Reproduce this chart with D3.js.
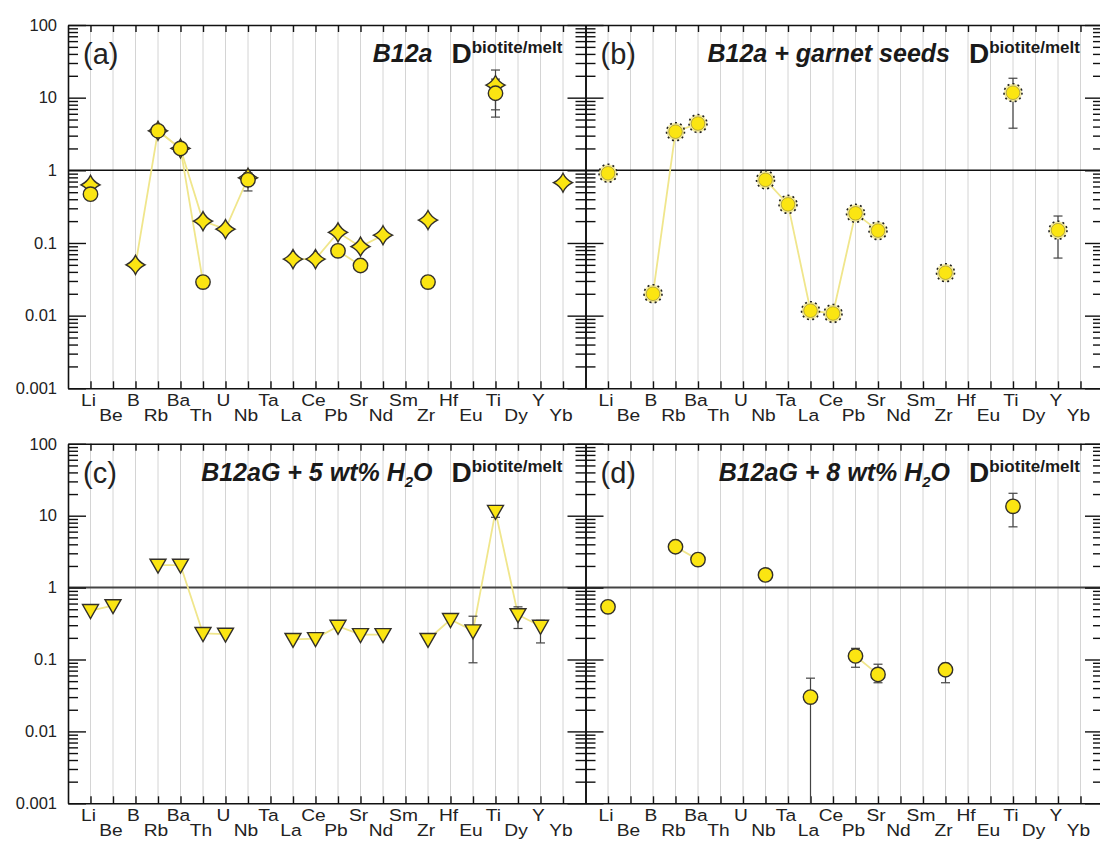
<!DOCTYPE html>
<html><head><meta charset="utf-8">
<script src="https://cdn.jsdelivr.net/npm/d3@7"></script>
<style>body{margin:0;background:#fff} svg{display:block}</style>
</head><body><svg id="chart" width="1100" height="844"></svg>
<script>
// ---------------- data ----------------
const elements = ["Li","Be","B","Rb","Ba","Th","U","Nb","Ta","La","Ce","Pb","Sr","Nd","Sm","Zr","Hf","Eu","Ti","Dy","Y","Yb"];
const yTickValues = [100, 10, 1, 0.1, 0.01, 0.001];
const yTickLabels = ["100", "10", "1", "0.1", "0.01", "0.001"];
const panelLetters = ["(a)", "(b)", "(c)", "(d)"];
const panelTitles = ["B12a", "B12a + garnet seeds", "B12aG + 5 wt% H|2|O", "B12aG + 8 wt% H|2|O"];
const dLabel = "D";
const dSuperscript = "biotite/melt";

// panel (a): two series (stars and circles)
const aStar   = [0.63, null, 0.05, 3.5, 2.0, 0.2, 0.155, 0.79, null, 0.06, 0.06, 0.14, 0.089, 0.128, null, 0.207, null, null, 14.9, null, null, 0.675];
const aCircle = [0.47, null, null, 3.5, 2.0, 0.029, null, 0.74, null, null, null, 0.078, 0.049, null, null, 0.029, null, null, 11.5, null, null, null];
const aStarErr   = [["Ti", 6.8, 24]];
const aCircleErr = [["Nb", 0.52, 0.92], ["Ti", 5.4, 18]];

// panel (b): circles with dotted rim
const bCircle = [0.91, null, 0.02, 3.4, 4.4, null, null, 0.74, 0.34, 0.0117, 0.0107, 0.256, 0.148, null, null, 0.039, null, null, 11.7, null, 0.15, null];
const bErr = [["Ti", 3.8, 18.5], ["Y", 0.062, 0.235]];

// panel (c): down triangles
const cTriangle = [0.48, 0.56, null, 2.05, 2.05, 0.23, 0.225, null, null, 0.19, 0.195, 0.29, 0.222, 0.222, null, 0.19, 0.36, 0.25, 11.5, 0.42, 0.29, null];
const cErr = [["Eu", 0.09, 0.4], ["Ti", 9.5, 13.5], ["Dy", 0.27, 0.54], ["Y", 0.17, 0.35]];

// panel (d): circles
const dCircle = [0.54, null, null, 3.7, 2.45, null, null, 1.5, null, 0.03, null, 0.112, 0.062, null, null, 0.072, null, null, 13.5, null, null, null];
const dErr = [["La", 0.0001, 0.055], ["Pb", 0.078, 0.143], ["Sr", 0.0475, 0.086], ["Zr", 0.0475, 0.088], ["Ti", 7.0, 20.5]];

// ---------------- layout ----------------
const svg = d3.select("#chart");
const FONT = "'Liberation Sans', Arial, Helvetica, sans-serif";
const YELLOW = "#fbe512";
const OUTLINE = "#33302a";
const LINEC = "#f0e68c";
const plotW = 517.5;
const colX = [68, 68 + plotW];
const rowY = [25, 443.8];
const rowH = [363.3, 359.5];

function star4(R) {
  const c = 0.32 * R;
  return `M0,${-R}Q${c},${-c} ${R},0Q${c},${c} 0,${R}Q${-c},${c} ${-R},0Q${-c},${-c} 0,${-R}Z`;
}
const triDown = "M-8,-6L8,-6L0,8Z";

const panels = [
  { col: 0, row: 0, series: [
      { values: aStar, shape: "star", err: aStarErr },
      { values: aCircle, shape: "circle", err: aCircleErr } ], labels: true },
  { col: 1, row: 0, series: [ { values: bCircle, shape: "dotted", err: bErr } ], labels: false },
  { col: 0, row: 1, series: [ { values: cTriangle, shape: "tri", err: cErr } ], labels: true },
  { col: 1, row: 1, series: [ { values: dCircle, shape: "circle", err: dErr } ], labels: false }
];

const minorTicks = [];
[0.001, 0.01, 0.1, 1, 10].forEach(b => { for (let k = 2; k <= 9; k++) minorTicks.push(b * k); });

panels.forEach((p, i) => {
  const x0 = colX[p.col], y0 = rowY[p.row], plotH = rowH[p.row];
  const g = svg.append("g");
  const x = d3.scalePoint().domain(elements).range([x0, x0 + plotW]).padding(1);
  const y = d3.scaleLog().domain([0.001, 100]).range([y0 + plotH, y0]).clamp(true);

  // vertical grid
  g.append("g").selectAll("line").data(elements).join("line")
    .attr("x1", d => x(d)).attr("x2", d => x(d))
    .attr("y1", y0).attr("y2", y0 + plotH)
    .attr("stroke", "#d4d4d4").attr("stroke-width", 1);

  // unity line
  g.append("line").attr("x1", x0).attr("x2", x0 + plotW)
    .attr("y1", y(1)).attr("y2", y(1))
    .attr("stroke", p.row === 0 ? "#111" : "#444").attr("stroke-width", p.row === 0 ? 1.4 : 2);

  // axes
  const styleAxis = sel => {
    sel.selectAll("path.domain").attr("stroke", "#111").attr("stroke-width", 1.6);
    sel.selectAll(".tick line").attr("stroke", "#111").attr("stroke-width", 1.4);
  };
  g.append("g").attr("transform", `translate(0,${y0 + plotH})`)
    .call(d3.axisBottom(x).tickSize(-7).tickSizeOuter(0).tickFormat(""))
    .call(styleAxis);
  g.append("g").attr("transform", `translate(0,${y0})`)
    .call(d3.axisTop(x).tickSize(-7).tickSizeOuter(0).tickFormat(""))
    .call(styleAxis);
  const leftMajor = d3.axisLeft(y).tickValues(yTickValues).tickSize(-18).tickSizeOuter(0).tickPadding(11)
    .tickFormat((d, j) => p.labels ? yTickLabels[j] : "");
  const la = g.append("g").attr("transform", `translate(${x0},0)`).call(leftMajor).call(styleAxis);
  la.selectAll("text").attr("font-family", FONT).attr("font-size", 16.5).attr("fill", "#222");
  g.append("g").attr("transform", `translate(${x0},0)`)
    .call(d3.axisLeft(y).tickValues(minorTicks).tickSize(-10).tickSizeOuter(0).tickFormat(""))
    .call(styleAxis).select("path.domain").remove();
  g.append("g").attr("transform", `translate(${x0 + plotW},0)`)
    .call(d3.axisRight(y).tickValues(yTickValues).tickSize(-18).tickSizeOuter(0).tickFormat(""))
    .call(styleAxis);
  g.append("g").attr("transform", `translate(${x0 + plotW},0)`)
    .call(d3.axisRight(y).tickValues(minorTicks).tickSize(-10).tickSizeOuter(0).tickFormat(""))
    .call(styleAxis).select("path.domain").remove();

  // x labels (alternating rows), slightly widened like the original typeface
  g.append("g").selectAll("text").data(elements).join("text")
    .attr("transform", (d, j) => `translate(${x(d) - 2},${y0 + plotH + (j % 2 === 0 ? 18 : 33)}) scale(1.13,1)`)
    .attr("text-anchor", "middle")
    .attr("font-family", FONT).attr("font-size", 17).attr("fill", "#222")
    .text(d => d);

  // connecting lines
  const line = d3.line()
    .defined(d => d[1] != null)
    .x(d => x(d[0])).y(d => y(d[1]));
  p.series.forEach(s => {
    g.append("path").datum(elements.map((e, j) => [e, s.values[j]]))
      .attr("d", line).attr("fill", "none")
      .attr("stroke", LINEC).attr("stroke-width", 1.8);
  });

  // error bars
  p.series.forEach(s => {
    const eg = g.append("g").attr("stroke", "#444").attr("stroke-width", 1.2);
    s.err.forEach(([e, lo, hi]) => {
      eg.append("line").attr("x1", x(e)).attr("x2", x(e)).attr("y1", y(lo)).attr("y2", y(hi));
      [lo, hi].forEach(v => {
        if (v >= 0.001) eg.append("line").attr("x1", x(e) - 4.5).attr("x2", x(e) + 4.5)
          .attr("y1", y(v)).attr("y2", y(v));
      });
    });
  });

  // markers
  p.series.forEach(s => {
    const pts = elements.map((e, j) => [e, s.values[j]]).filter(d => d[1] != null);
    const mg = g.append("g");
    if (s.shape === "circle") {
      mg.selectAll("circle").data(pts).join("circle")
        .attr("cx", d => x(d[0])).attr("cy", d => y(d[1])).attr("r", 7.2)
        .attr("fill", YELLOW).attr("stroke", OUTLINE).attr("stroke-width", 1.4);
    } else if (s.shape === "dotted") {
      mg.selectAll("circle.halo").data(pts).join("circle").attr("class", "halo")
        .attr("cx", d => x(d[0])).attr("cy", d => y(d[1])).attr("r", 9)
        .attr("fill", "#f4eba0").attr("stroke", "#222").attr("stroke-width", 1.6)
        .attr("stroke-dasharray", "2,3.2");
      mg.selectAll("circle.core").data(pts).join("circle").attr("class", "core")
        .attr("cx", d => x(d[0])).attr("cy", d => y(d[1])).attr("r", 6.8)
        .attr("fill", YELLOW).attr("stroke", "#8a7d30").attr("stroke-width", 0.6);
    } else if (s.shape === "star") {
      mg.selectAll("path").data(pts).join("path")
        .attr("transform", d => `translate(${x(d[0])},${y(d[1])})`)
        .attr("d", star4(9.5))
        .attr("fill", YELLOW).attr("stroke", OUTLINE).attr("stroke-width", 1.4);
    } else if (s.shape === "tri") {
      mg.selectAll("path").data(pts).join("path")
        .attr("transform", d => `translate(${x(d[0])},${y(d[1])})`)
        .attr("d", triDown)
        .attr("fill", YELLOW).attr("stroke", OUTLINE).attr("stroke-width", 1.4);
    }
  });

  // panel letter
  g.append("text").attr("x", x0 + 15).attr("y", y0 + 39)
    .attr("font-family", FONT).attr("font-size", 29).attr("fill", "#222")
    .text(panelLetters[i]);

  // title (with optional subscript marked by |)
  const parts = panelTitles[i].split("|");
  const t = g.append("text").attr("x", x0 + plotW - 153).attr("y", y0 + 37)
    .attr("text-anchor", "end")
    .attr("font-family", FONT).attr("font-size", 25)
    .attr("font-weight", "bold").attr("font-style", "italic").attr("fill", "#1a1a1a");
  parts.forEach((part, k) => {
    const ts = t.append("tspan").text(part);
    if (k === 1) ts.attr("font-size", 15).attr("dy", 6);
    if (k === 2) ts.attr("dy", -6);
  });

  // D^biotite/melt
  const dt = g.append("text").attr("x", x0 + plotW - 134).attr("y", y0 + 38)
    .attr("font-family", FONT).attr("font-weight", "bold").attr("fill", "#1a1a1a");
  dt.append("tspan").attr("font-size", 28).text(dLabel);
  dt.append("tspan").attr("font-size", 17).attr("dy", -10).text(dSuperscript);
});
</script>
</body></html>
